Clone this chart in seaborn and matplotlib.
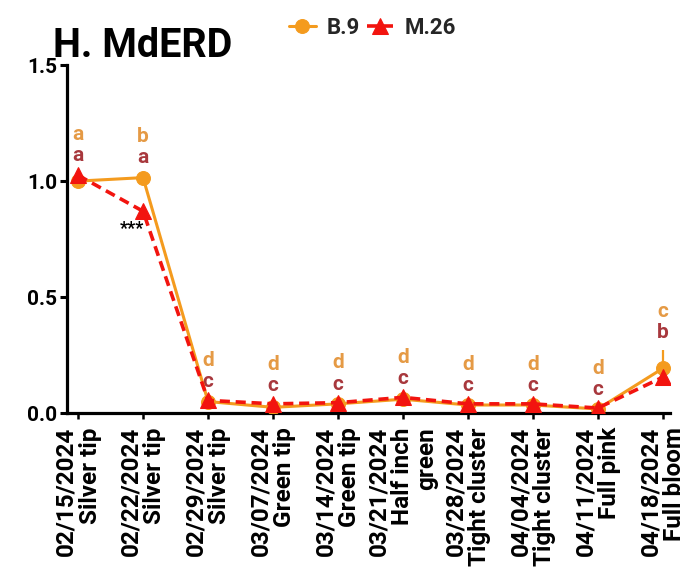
import numpy as np
import pandas as pd
import matplotlib
matplotlib.use("Agg")
import matplotlib.pyplot as plt
import seaborn as sns

# Sampling dates and phenological stages
dates = ["02/15/2024", "02/22/2024", "02/29/2024", "03/07/2024", "03/14/2024",
         "03/21/2024", "03/28/2024", "04/04/2024", "04/11/2024", "04/18/2024"]
stages = ["Silver tip", "Silver tip", "Silver tip", "Green tip", "Green tip",
          "Half inch\ngreen", "Tight cluster", "Tight cluster", "Full pink", "Full bloom"]

# Relative expression of MdERD per rootstock
b9_mean = [1.00, 1.015, 0.050, 0.025, 0.040, 0.060, 0.035, 0.035, 0.018, 0.193]
b9_err = [0.010, 0.010, 0.005, 0.004, 0.005, 0.006, 0.004, 0.004, 0.003, 0.078]
m26_mean = [1.025, 0.870, 0.055, 0.040, 0.045, 0.068, 0.040, 0.040, 0.022, 0.155]
m26_err = [0.010, 0.012, 0.005, 0.004, 0.005, 0.006, 0.004, 0.004, 0.003, 0.012]

# Significance letters per rootstock
b9_letters = ["a", "b", "d", "d", "d", "d", "d", "d", "d", "c"]
m26_letters = ["a", "a", "c", "c", "c", "c", "c", "c", "c", "b"]

ORANGE = "#F49B1E"
RED = "#F2140F"
ORANGE_TXT = "#E59A45"
RED_TXT = "#A8383D"

sns.set_theme(style="ticks")
plt.rcParams["font.family"] = ["Roboto", "DejaVu Sans"]
plt.rcParams["font.weight"] = "bold"

pos = np.arange(len(dates))
df = pd.DataFrame({
    "pos": np.concatenate([pos, pos]),
    "value": b9_mean + m26_mean,
    "err": b9_err + m26_err,
    "Rootstock": ["B.9"] * len(dates) + ["M.26"] * len(dates),
})

fig = plt.figure(figsize=(6.86, 5.73), dpi=100)
ax = fig.add_axes([0.0977, 0.279, 0.879, 0.6074])

# Upper error bars only
for name, color, z in [("B.9", ORANGE, 2), ("M.26", RED, 3)]:
    sub = df[df["Rootstock"] == name]
    ax.errorbar(sub["pos"], sub["value"],
                yerr=[np.zeros(len(sub)), sub["err"].to_numpy()],
                fmt="none", ecolor=color, elinewidth=1.6, capsize=0, zorder=z)

sns.lineplot(data=df[df["Rootstock"] == "B.9"], x="pos", y="value", ax=ax,
             color=ORANGE, lw=2.2, marker="o", markersize=10,
             markeredgecolor=ORANGE, label="B.9", zorder=4)
sns.lineplot(data=df[df["Rootstock"] == "M.26"], x="pos", y="value", ax=ax,
             color=RED, lw=2.6, marker="^", markersize=11,
             markeredgecolor=RED, label="M.26", zorder=5)
ax.lines[-1].set_dashes([2.8, 1.6])

# Significance letters above each pair of points
for i in range(len(dates)):
    top = max(b9_mean[i] + b9_err[i], m26_mean[i] + m26_err[i])
    ax.annotate(m26_letters[i], (pos[i], top), xytext=(0, 12.5),
                textcoords="offset points", ha="center", va="center",
                color=RED_TXT, fontsize=15, fontweight="bold")
    ax.annotate(b9_letters[i], (pos[i], top), xytext=(0, 28),
                textcoords="offset points", ha="center", va="center",
                color=ORANGE_TXT, fontsize=15, fontweight="bold")

ax.annotate("***", (pos[1], m26_mean[1]), xytext=(-8, -13),
            textcoords="offset points", ha="center", va="center",
            color="black", fontsize=13, fontweight="bold")

ax.set_xlim(-0.17, 9.11)
ax.set_ylim(0, 1.5)
ax.set_yticks([0, 0.5, 1.0, 1.5])
ax.set_yticklabels(["0.0", "0.5", "1.0", "1.5"], fontsize=15, fontweight="bold")
ax.set_xticks(pos)
ax.set_xticklabels([f"{d}\n{s}" for d, s in zip(dates, stages)],
                   rotation=90, fontsize=17.5, fontweight="bold",
                   ha="center", va="top", multialignment="right",
                   linespacing=1.05)
ax.set_xlabel("")
ax.set_ylabel("")

for side in ["top", "right"]:
    ax.spines[side].set_visible(False)
for side in ["left", "bottom"]:
    ax.spines[side].set_linewidth(2.3)
    ax.spines[side].set_color("black")
ax.tick_params(axis="y", length=5, width=2.2, pad=2, colors="black")
ax.tick_params(axis="x", length=4, width=1.8, pad=6, colors="black")

ax.get_legend().remove()
handles, labels = ax.get_legend_handles_labels()
fig.legend(handles, labels, loc="center", bbox_to_anchor=(0.543, 0.951),
           ncol=2, frameon=False, handlelength=1.2, handletextpad=0.5,
           columnspacing=0.3, prop={"size": 16, "weight": "bold"})

fig.text(0.077, 0.9005, "H. MdERD", fontsize=28.5, fontweight="bold",
         ha="left", va="baseline", color="black")

fig.savefig("out.png", dpi=100)
